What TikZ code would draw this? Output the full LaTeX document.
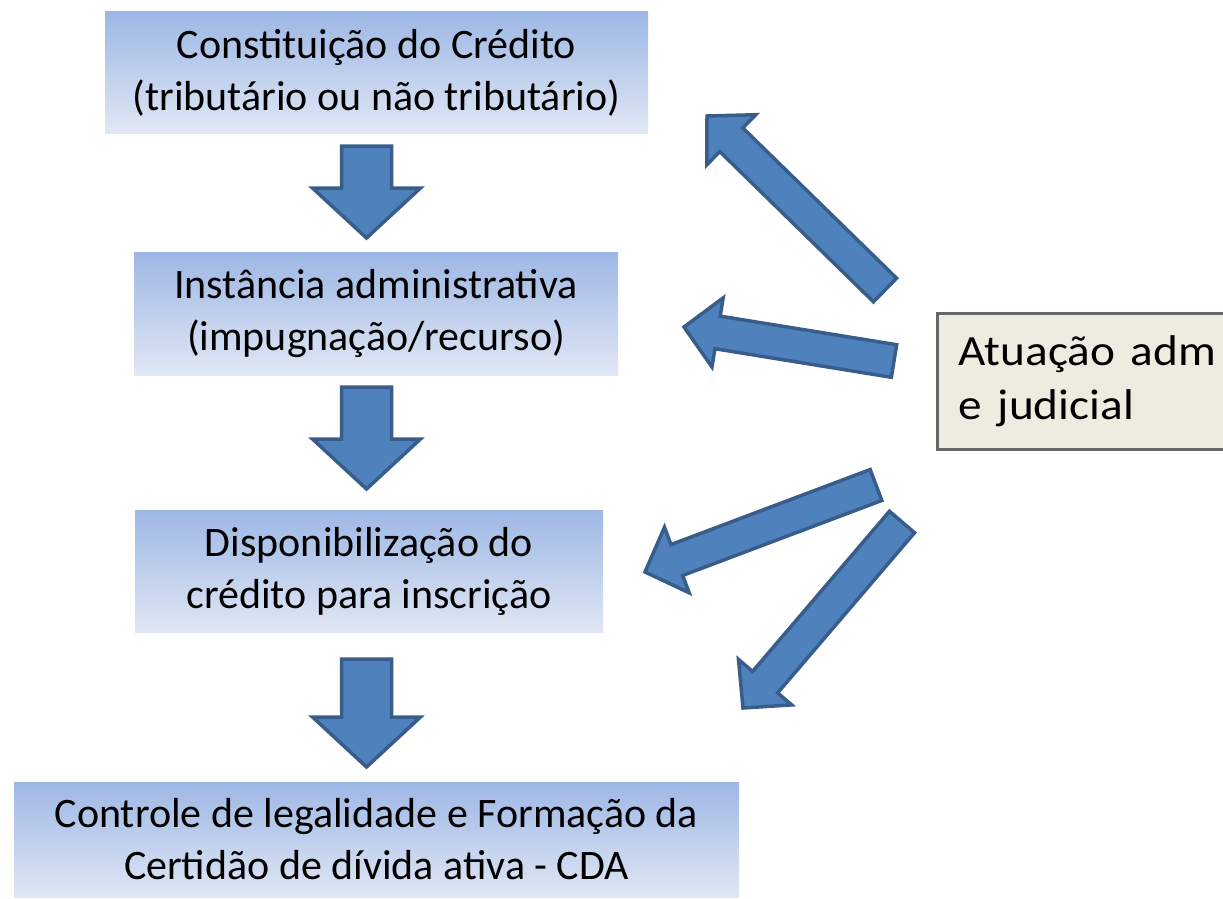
\documentclass[tikz,border=0pt]{standalone}
\usepackage{fontspec}
\setmainfont{Carlito}
\usetikzlibrary{calc}
\definecolor{xanh}{HTML}{4F81BD}
\definecolor{vien}{HTML}{385D8A}
\definecolor{nentren}{HTML}{9DB7E5}
\definecolor{nenduoi}{HTML}{E1E7F4}
\definecolor{be}{HTML}{EEECE1}
% mui ten khoi: #1 goc, #2 mui, #3 nua than, #4 nua dau, #5 dai dau
\newcommand{\khoiten}[5]{%
	\path ($(#2)!#5!(#1)$) coordinate (dau);
	\draw[muiten] ($(#1)!#3!90:(#2)$) -- ($(dau)!#3!90:(#2)$) -- ($(dau)!#4!90:(#2)$) -- (#2)
	-- ($(dau)!#4!-90:(#2)$) -- ($(dau)!#3!-90:(#2)$) -- ($(#1)!#3!-90:(#2)$) -- cycle;}
\newcommand{\gian}[1]{\scalebox{1.1}[1]{#1}}
\begin{document}
\begin{tikzpicture}[x=1pt, y=-1pt, line join=miter,
	hop/.style={top color=nentren, bottom color=nenduoi, align=center, inner sep=0pt,
		font=\fontsize{42}{52}\selectfont},
	muiten/.style={fill=xanh, draw=vien, line width=3.5pt},
	ghichu/.style={fill=be, draw=black!60, line width=3pt, align=left, inner xsep=21pt,
		text width=265pt, minimum height=136pt, font=\fontsize{43}{54}\selectfont}]
	\useasboundingbox (0,0) rectangle (1223,899);
	% cac hop
	\node[hop, minimum width=543pt, minimum height=121pt] (b1) at (376.5,72.5)
		{Constituição do Crédito\\(tributário ou não tributário)};
	\node[hop, minimum width=484pt, minimum height=123pt] (b2) at (376,313.5)
		{Instância administrativa\\(impugnação/recurso)};
	\node[hop, minimum width=468pt, minimum height=122pt] (b3) at (369,571)
		{Disponibilização do\\crédito para inscrição};
	\node[hop, minimum width=725pt, minimum height=115pt] (b4) at (376.5,839.5)
		{Controle de legalidade e Formação da\\Certidão de dívida ativa - CDA};
	\node[ghichu, anchor=west] (tt) at (936,381) {\gian{Atuação adm}\\\gian{e judicial}};
	% diem goc va mui
	\path
	(366.5,146) coordinate (g1) (366.5,238) coordinate (m1)
	(366.5,387) coordinate (g2) (366.5,489) coordinate (m2)
	(366.5,659) coordinate (g3) (366.5,767) coordinate (m3)
	(885,290) coordinate (g4) (707,116) coordinate (m4)
	(894,361) coordinate (g5) (684,327) coordinate (m5)
	(876,485) coordinate (g6) (645,572) coordinate (m6)
	(902,522) coordinate (g7) (743,708) coordinate (m7)
	;
	\foreach \i in {1,2,3}{\khoiten{g\i}{m\i}{25pt}{54pt}{50pt}}
	\foreach \i in {4,...,7}{\khoiten{g\i}{m\i}{16.5pt}{35pt}{34pt}}
\end{tikzpicture}
\end{document}
